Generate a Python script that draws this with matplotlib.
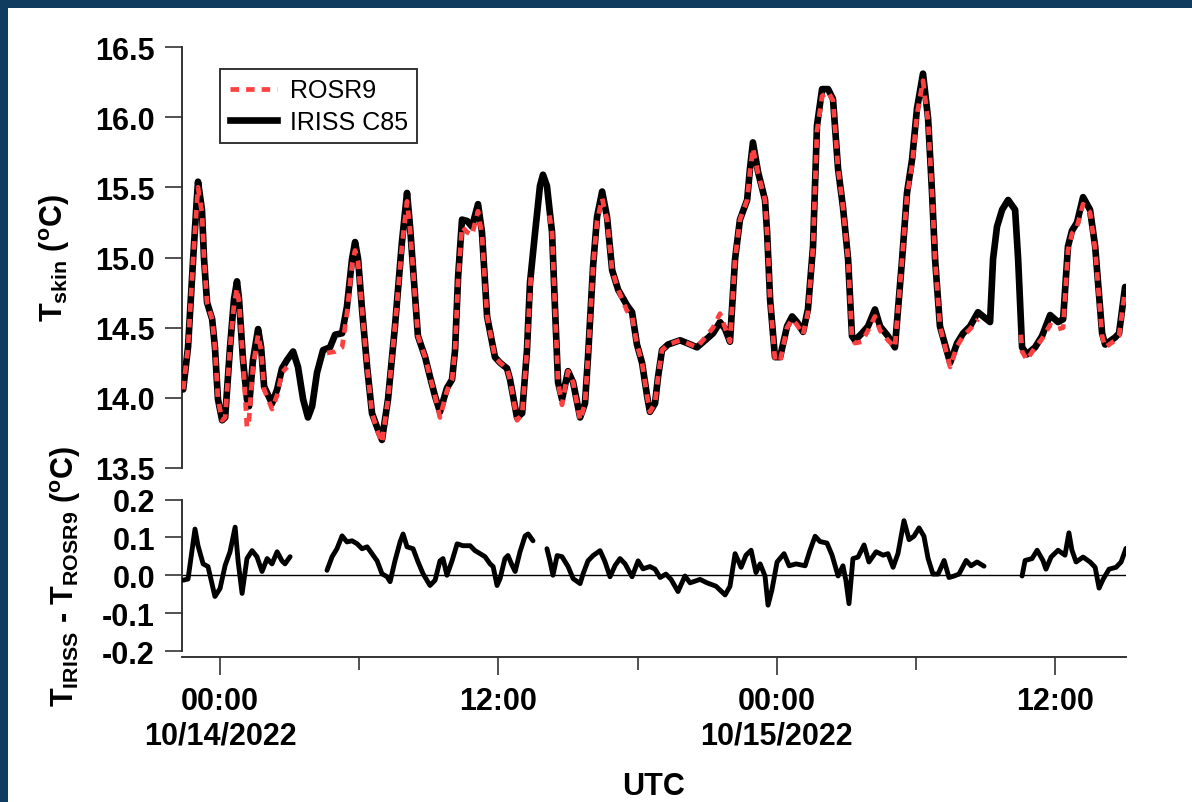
import matplotlib
matplotlib.use("Agg")
import matplotlib.pyplot as plt
import numpy as np
import pandas as pd
from matplotlib.patches import Rectangle
from matplotlib.lines import Line2D

plt.rcParams['font.family'] = ['Liberation Sans', 'DejaVu Sans']
plt.rcParams['mathtext.fontset'] = 'custom'
plt.rcParams['mathtext.rm'] = 'Liberation Sans:bold'
plt.rcParams['mathtext.bf'] = 'Liberation Sans:bold'
plt.rcParams['mathtext.it'] = 'Liberation Sans:bold'
plt.rcParams['axes.unicode_minus'] = False

# ---------------- data (hours after 2022-10-14 00:00 UTC) ----------------
iriss_hours = [-1.59, -1.38, -1.16, -1.03, -0.95, -0.78, -0.69, -0.56, -0.34, -0.22,
               -0.09, 0.09, 0.22, 0.43, 0.60, 0.73, 0.82, 0.99, 1.16, 1.25,
               1.42, 1.64, 1.77, 1.90, 2.24, 2.46, 2.67, 2.89, 3.15, 3.36,
               3.58, 3.79, 3.97, 4.18, 4.44, 4.74, 4.96, 5.26, 5.47, 5.69,
               5.82, 5.95, 6.12, 6.34, 6.55, 6.77, 6.98, 7.24, 7.54, 7.84,
               8.06, 8.19, 8.53, 8.84, 9.05, 9.27, 9.48, 9.78, 10.00, 10.13,
               10.26, 10.43, 10.65, 10.86, 11.12, 11.29, 11.51, 11.85, 12.07, 12.37,
               12.50, 12.80, 13.02, 13.23, 13.36, 13.58, 13.79, 13.92, 14.09, 14.31,
               14.44, 14.57, 14.74, 15.00, 15.22, 15.52, 15.73, 15.86, 16.08, 16.25,
               16.47, 16.68, 16.90, 17.16, 17.54, 17.76, 17.97, 18.19, 18.41, 18.53,
               18.75, 18.88, 19.05, 19.31, 19.83, 20.13, 20.56, 20.91, 21.25, 21.55,
               21.77, 21.98, 22.20, 22.41, 22.72, 22.84, 22.97, 23.19, 23.49, 23.58,
               23.71, 23.92, 24.14, 24.44, 24.66, 24.87, 25.13, 25.34, 25.56, 25.73,
               25.95, 26.21, 26.42, 26.64, 26.85, 27.07, 27.24, 27.37, 27.67, 27.93,
               28.23, 28.45, 28.79, 29.09, 29.40, 29.61, 29.83, 30.04, 30.30, 30.52,
               30.69, 30.82, 31.03, 31.47, 31.77, 32.03, 32.33, 32.67, 32.89, 33.19,
               33.32, 33.49, 33.71, 33.97, 34.27, 34.40, 34.57, 34.78, 35.13, 35.43,
               35.78, 36.12, 36.34, 36.55, 36.72, 36.94, 37.20, 37.50, 37.72, 38.02,
               38.15, 38.58, 38.75, 39.01]
iriss_temp = [14.06, 14.36, 14.99, 15.34, 15.54, 15.34, 14.99, 14.68, 14.56, 14.36,
              13.99, 13.84, 13.86, 14.36, 14.70, 14.83, 14.70, 14.27, 13.99, 13.94,
              14.27, 14.49, 14.36, 14.08, 13.96, 14.06, 14.21, 14.27, 14.33, 14.22,
              13.99, 13.86, 13.94, 14.18, 14.34, 14.36, 14.45, 14.46, 14.65, 14.99,
              15.11, 14.99, 14.63, 14.22, 13.89, 13.79, 13.70, 13.99, 14.51, 15.11,
              15.46, 15.22, 14.44, 14.29, 14.15, 14.01, 13.90, 14.07, 14.13, 14.34,
              14.86, 15.27, 15.26, 15.22, 15.38, 15.18, 14.58, 14.29, 14.25, 14.21,
              14.13, 13.86, 13.89, 14.34, 14.82, 15.18, 15.51, 15.59, 15.51, 15.18,
              14.63, 14.11, 13.99, 14.19, 14.11, 13.86, 13.96, 14.29, 14.94, 15.29,
              15.47, 15.29, 14.91, 14.77, 14.66, 14.61, 14.38, 14.25, 14.01, 13.90,
              13.96, 14.15, 14.34, 14.38, 14.41, 14.39, 14.36, 14.41, 14.46, 14.54,
              14.49, 14.40, 14.99, 15.27, 15.41, 15.63, 15.82, 15.61, 15.41, 15.18,
              14.70, 14.29, 14.29, 14.51, 14.58, 14.54, 14.47, 14.63, 15.08, 15.94,
              16.20, 16.20, 16.13, 15.63, 15.36, 14.99, 14.44, 14.41, 14.46, 14.51,
              14.63, 14.51, 14.44, 14.36, 14.99, 15.46, 15.70, 16.06, 16.31, 15.99,
              15.46, 14.99, 14.51, 14.25, 14.39, 14.46, 14.51, 14.61, 14.58, 14.54,
              14.99, 15.22, 15.34, 15.41, 15.34, 14.99, 14.36, 14.31, 14.36, 14.44,
              14.59, 14.54, 14.56, 15.08, 15.19, 15.25, 15.43, 15.34, 15.08, 14.46,
              14.38, 14.43, 14.46, 14.79]

nan = float('nan')
rosr_hours = [-1.59, -1.38, -1.16, -1.03, -0.95, -0.78, -0.69, -0.56, -0.34, -0.22,
              -0.09, 0.09, 0.22, 0.43, 0.60, 0.73, 0.82, 0.99, 1.16, 1.25,
              1.42, 1.64, 1.77, 1.90, 2.24, 2.46, 2.67, 2.89, 3.70,
              4.61, 4.96, 5.26, 5.47, 5.69, 5.82, 5.95, 6.12, 6.34, 6.55,
              6.77, 6.98, 7.24, 7.54, 7.84, 8.06, 8.19, 8.53, 8.84, 9.05,
              9.27, 9.48, 9.78, 10.00, 10.13, 10.26, 10.43, 10.65, 10.86, 11.12,
              11.29, 11.51, 11.85, 12.07, 12.37, 12.50, 12.80, 13.02, 13.23, 13.40,
              13.80, 14.20, 14.31, 14.44, 14.57, 14.74, 15.00, 15.22, 15.52, 15.73,
              15.86, 16.08, 16.25, 16.47, 16.68, 16.90, 17.16, 17.54, 17.76, 17.97,
              18.19, 18.41, 18.53, 18.75, 18.88, 19.05, 19.31, 19.83, 20.13, 20.56,
              20.91, 21.25, 21.55, 21.77, 21.98, 22.20, 22.41, 22.72, 22.84, 22.97,
              23.19, 23.49, 23.58, 23.71, 23.92, 24.14, 24.44, 24.66, 24.87, 25.13,
              25.34, 25.56, 25.73, 25.95, 26.21, 26.42, 26.64, 26.85, 27.07, 27.24,
              27.37, 27.67, 27.93, 28.23, 28.45, 28.79, 29.09, 29.40, 29.61, 29.83,
              30.04, 30.30, 30.52, 30.69, 30.82, 31.03, 31.47, 31.77, 32.03, 32.33,
              32.67, 33.60, 34.52, 34.57, 34.78, 35.13, 35.43, 35.78, 36.12, 36.34,
              36.55, 36.72, 36.94, 37.20, 37.50, 37.72, 38.02, 38.15, 38.58, 38.75,
              39.01]
rosr_temp = [14.06, 14.36, 14.99, 15.30, 15.50, 15.32, 14.99, 14.68, 14.56, 14.36,
             13.99, 13.84, 13.86, 14.36, 14.66, 14.78, 14.68, 14.27, 13.79, 13.85,
             14.22, 14.45, 14.34, 14.06, 13.92, 14.02, 14.18, 14.22, nan,
             14.32, 14.33, 14.36, 14.60, 14.95, 15.05, 14.97, 14.63, 14.22, 13.89,
             13.77, 13.68, 13.99, 14.51, 15.08, 15.40, 15.20, 14.44, 14.29, 14.15,
             14.01, 13.86, 14.05, 14.13, 14.34, 14.84, 15.22, 15.18, 15.16, 15.33,
             15.16, 14.58, 14.29, 14.25, 14.21, 14.13, 13.84, 13.88, 14.34, 14.88,
             nan, 15.30, 15.18, 14.63, 14.11, 13.95, 14.19, 14.11, 13.84, 13.96,
             14.29, 14.94, 15.26, 15.42, 15.27, 14.91, 14.77, 14.62, 14.58, 14.38,
             14.25, 14.01, 13.90, 13.96, 14.15, 14.34, 14.38, 14.41, 14.39, 14.36,
             14.43, 14.50, 14.60, 14.50, 14.40, 14.99, 15.27, 15.41, 15.61, 15.78,
             15.60, 15.41, 15.18, 14.70, 14.27, 14.26, 14.50, 14.56, 14.52, 14.45,
             14.61, 15.08, 15.90, 16.15, 16.18, 16.12, 15.63, 15.36, 14.99, 14.42,
             14.39, 14.40, 14.48, 14.58, 14.48, 14.41, 14.36, 14.99, 15.44, 15.66,
             16.02, 16.26, 15.97, 15.46, 14.99, 14.51, 14.22, 14.37, 14.44, 14.49,
             14.56, nan, 14.45, 14.33, 14.27, 14.36, 14.42, 14.52, 14.49, 14.50,
             15.05, 15.17, 15.22, 15.38, 15.32, 15.06, 14.44, 14.36, 14.41, 14.44,
             14.77]

diff_hours = [-1.59, -1.38, -1.08, -0.95, -0.73, -0.52, -0.22, 0.00, 0.22, 0.43,
              0.65, 0.78, 0.95, 1.16, 1.38, 1.59, 1.81, 2.03, 2.24, 2.46,
              2.67, 2.80, 3.02, 3.80,
              4.61, 4.83, 5.04, 5.26, 5.47, 5.69, 5.91, 6.12, 6.34, 6.55,
              6.77, 6.98, 7.20, 7.33, 7.54, 7.76, 7.89, 8.06, 8.32, 8.53,
              8.75, 9.05, 9.27, 9.48, 9.61, 9.78, 10.00, 10.22, 10.47, 10.78,
              10.99, 11.21, 11.42, 11.64, 11.77, 11.94, 12.07, 12.28, 12.41, 12.59,
              12.72, 12.93, 13.15, 13.28, 13.49, 13.80,
              14.09, 14.22, 14.35, 14.53, 14.74, 15.00, 15.22, 15.52, 15.65, 15.86,
              16.08, 16.38, 16.59, 16.81, 17.03, 17.24, 17.46, 17.76, 18.02, 18.23,
              18.53, 18.75, 18.97, 19.22, 19.44, 19.74, 20.04, 20.26, 20.69, 20.99,
              21.38, 21.77, 21.98, 22.20, 22.46, 22.67, 22.89, 23.10, 23.28, 23.49,
              23.62, 23.79, 24.01, 24.31, 24.53, 24.83, 25.22, 25.43, 25.65, 25.86,
              26.16, 26.38, 26.64, 26.85, 26.98, 27.11, 27.28, 27.50, 27.76, 27.97,
              28.28, 28.58, 28.79, 29.01, 29.22, 29.48, 29.70, 29.91, 30.13, 30.34,
              30.52, 30.73, 30.95, 31.21, 31.42, 31.64, 31.85, 32.16, 32.37, 32.63,
              32.93, 33.70,
              34.57, 34.70, 35.00, 35.22, 35.47, 35.60, 35.82, 36.12, 36.42, 36.59,
              36.72, 36.90, 37.20, 37.50, 37.72, 37.89, 38.06, 38.32, 38.62, 38.84,
              39.05]
diff_vals = [-0.013, -0.010, 0.122, 0.078, 0.030, 0.023, -0.056, -0.035, 0.026, 0.062,
             0.127, 0.036, -0.048, 0.044, 0.065, 0.049, 0.010, 0.044, 0.030, 0.062,
             0.038, 0.030, 0.049, nan,
             0.013, 0.049, 0.070, 0.104, 0.088, 0.091, 0.083, 0.070, 0.075, 0.057,
             0.038, 0.004, -0.004, -0.017, 0.038, 0.088, 0.109, 0.075, 0.070, 0.036,
             0.004, -0.027, -0.013, 0.038, 0.044, 0.000, 0.038, 0.083, 0.078, 0.078,
             0.065, 0.057, 0.049, 0.030, 0.023, -0.027, -0.009, 0.044, 0.052, 0.026,
             0.010, 0.062, 0.104, 0.109, 0.091, nan,
             0.070, 0.038, 0.000, 0.052, 0.049, 0.023, -0.009, -0.022, 0.004, 0.038,
             0.052, 0.065, 0.036, -0.004, 0.026, 0.044, 0.030, -0.004, 0.038, 0.017,
             0.023, 0.016, -0.006, 0.003, -0.011, -0.043, -0.002, -0.020, -0.011, -0.020,
             -0.029, -0.052, -0.029, 0.057, 0.021, 0.053, 0.066, 0.007, 0.030, -0.002,
             -0.079, -0.038, 0.035, 0.057, 0.025, 0.030, 0.025, 0.066, 0.103, 0.089,
             0.085, 0.053, -0.002, 0.025, -0.015, -0.075, 0.044, 0.048, 0.080, 0.035,
             0.062, 0.053, 0.057, 0.021, 0.057, 0.144, 0.094, 0.103, 0.125, 0.103,
             0.044, 0.003, 0.003, 0.039, -0.006, -0.002, 0.003, 0.039, 0.025, 0.035,
             0.024, nan,
             -0.002, 0.039, 0.044, 0.066, 0.039, 0.016, 0.048, 0.066, 0.053, 0.112,
             0.066, 0.035, 0.048, 0.035, 0.021, -0.034, -0.011, 0.016, 0.021, 0.035,
             0.071]

x_range_hours = [-1.64, 39.05]
major_tick_hours = [0, 12, 24, 36]
major_tick_labels = ["00:00\n10/14/2022", "12:00", "00:00\n10/15/2022", "12:00"]
minor_tick_hours = [6, 18, 30]
top_yticks = [13.5, 14.0, 14.5, 15.0, 15.5, 16.0, 16.5]
top_ylabels = ["13.5", "14.0", "14.5", "15.0", "15.5", "16.0", "16.5"]
bot_yticks = [-0.2, -0.1, 0.0, 0.1, 0.2]
bot_ylabels = ["-0.2", "-0.1", "0.0", "0.1", "0.2"]

BASE = pd.Timestamp("2022-10-14 00:00")


def to_time(hours):
    return BASE + pd.to_timedelta(np.asarray(hours, dtype=float), unit="h")


RED = "#ff4040"
RED_DASH = (0, (1.8, 1.5))

# ---------------- figure ----------------
W, H = 1192, 803
fig = plt.figure(figsize=(W / 100, H / 100), dpi=100)
fig.patch.set_facecolor("#103c5f")
fig.add_artist(Rectangle((8 / W, 0), 1 - 8 / W, 1 - 9 / H, transform=fig.transFigure,
                         facecolor="white", edgecolor="none", zorder=-5))

ax1 = fig.add_axes([182 / W, 1 - 469 / H, 944 / W, 421 / H])
ax2 = fig.add_axes([182 / W, 1 - 652 / H, 944 / W, 151.5 / H])
for ax in (ax1, ax2):
    ax.set_facecolor("none")
    ax.set_xlim(to_time(x_range_hours))
    for s in ("top", "right"):
        ax.spines[s].set_visible(False)
    for s in ("left", "bottom"):
        ax.spines[s].set_color("#333333")
        ax.spines[s].set_linewidth(1.4)
    ax.tick_params(axis="y", direction="out", length=12.5, width=1.2, pad=7,
                   labelsize=22, color="#333333")

# top panel
ax1.plot(to_time(iriss_hours), iriss_temp, color="black", lw=4.8,
         solid_joinstyle="round", solid_capstyle="round", zorder=3)
ax1.plot(to_time(rosr_hours), rosr_temp, color=RED, lw=3.4,
         linestyle=RED_DASH, dash_capstyle="butt", zorder=4)
ax1.set_ylim(13.5, 16.5)
ax1.set_yticks(top_yticks)
ax1.set_yticklabels(top_ylabels, fontweight="bold")
ax1.spines["bottom"].set_visible(False)
ax1.tick_params(axis="x", bottom=False, labelbottom=False, which="both")
ax1.set_ylabel(r"T$_{\rm skin}$ ($^{\rm o}$C)", fontsize=22, fontweight="bold")
ax1.yaxis.set_label_coords(-0.117, 0.5)

h_r = Line2D([], [], color=RED, lw=3.4, linestyle=RED_DASH)
h_i = Line2D([], [], color="black", lw=4.8)
leg = ax1.legend([h_r, h_i], ["ROSR9", "IRISS C85"], loc="upper left",
                 bbox_to_anchor=(0.0403, 0.948), borderaxespad=0, frameon=True,
                 fancybox=False, edgecolor="black", fontsize=18, handlelength=1.9,
                 handletextpad=0.5, labelspacing=0.3, borderpad=0.38)
leg.get_frame().set_linewidth(1.4)

# bottom panel
ax2.axhline(0, color="black", lw=1.0, zorder=1)
ax2.plot(to_time(diff_hours), diff_vals, color="black", lw=3.5,
         solid_joinstyle="round", solid_capstyle="round", zorder=3)
ax2.set_ylim(-0.2, 0.2)
ax2.set_yticks(bot_yticks)
ax2.set_yticklabels(bot_ylabels, fontweight="bold")
ax2.spines["bottom"].set_position(("outward", 4))
ax2.set_xticks(to_time(major_tick_hours))
ax2.set_xticklabels(major_tick_labels, fontweight="bold", fontsize=22)
ax2.set_xticks(to_time(minor_tick_hours), minor=True)
ax2.tick_params(axis="x", which="major", direction="out", length=13, width=1.2,
                pad=8, color="#333333")
ax2.tick_params(axis="x", which="minor", direction="out", length=9.5, width=1.2,
                color="#333333")
ax2.set_xlabel("UTC", fontsize=22, fontweight="bold", labelpad=15)
ax2.set_ylabel(r"T$_{\rm IRISS}$ - T$_{\rm ROSR9}$ ($^{\rm o}$C)", fontsize=22,
               fontweight="bold")
ax2.yaxis.set_label_coords(-0.105, 0.5)

fig.savefig("out.png", dpi=100, facecolor=fig.get_facecolor())
